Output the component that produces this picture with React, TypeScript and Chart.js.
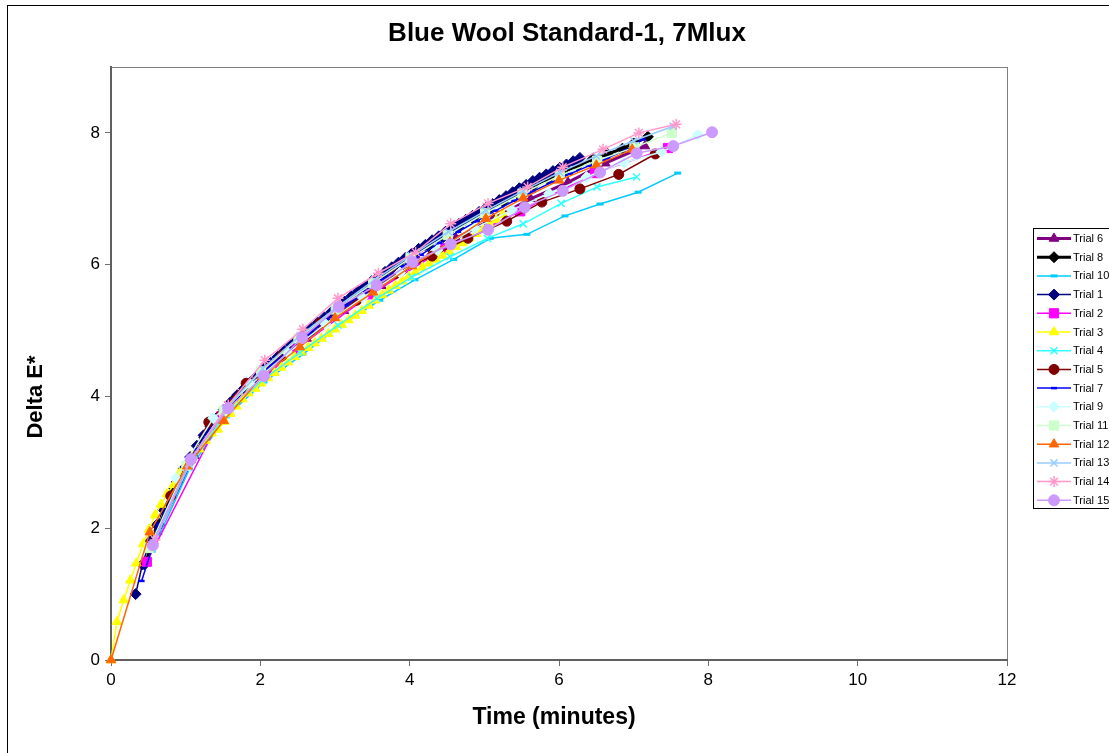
import React, { useEffect, useRef } from 'react';
import { Chart, registerables } from 'chart.js';
import { drawPoint } from 'chart.js/helpers';

Chart.register(...registerables);

const FONT = '"Liberation Sans", Arial, Helvetica, sans-serif';

const chartTitle = 'Blue Wool Standard-1, 7Mlux';
const xTitle = 'Time (minutes)';
const yTitle = 'Delta E*';
const xTickValues = [0, 2, 4, 6, 8, 10, 12];
const yTickValues = [0, 2, 4, 6, 8];

// ---- data (time in minutes, Delta E*) ----
const trial6T = [0.62, 1.12, 1.62, 2.12, 2.62, 3.12, 3.62, 4.12, 4.62, 5.12, 5.62, 6.12, 6.62, 7.15];
const trial6Y = [1.95, 3.1, 3.88, 4.4, 4.88, 5.3, 5.68, 6.05, 6.4, 6.7, 7.0, 7.25, 7.54, 7.8];

const trial8T = [0.45, 0.65, 0.85, 1.05, 1.25, 1.45, 1.65, 1.85, 2.05, 2.25, 2.45, 2.65, 2.85, 3.05, 3.25, 3.45, 3.65, 3.85, 4.05, 4.25, 4.45, 4.65, 4.85, 5.05, 5.25, 5.45, 5.65, 5.85, 6.05, 6.25, 6.45, 6.65, 6.85, 7.0, 7.19];
const trial8Y = [1.45, 2.05, 2.6, 3.0, 3.38, 3.7, 3.96, 4.18, 4.4, 4.6, 4.8, 4.98, 5.16, 5.33, 5.5, 5.67, 5.83, 5.99, 6.14, 6.28, 6.42, 6.56, 6.7, 6.83, 6.95, 7.07, 7.19, 7.3, 7.4, 7.5, 7.6, 7.68, 7.76, 7.84, 7.94];

const trial10T = [0.55, 1.05, 1.55, 2.05, 2.57, 3.07, 3.6, 4.07, 4.59, 5.08, 5.57, 6.08, 6.55, 7.06, 7.59];
const trial10Y = [1.65, 2.9, 3.7, 4.22, 4.64, 5.08, 5.46, 5.77, 6.08, 6.4, 6.46, 6.74, 6.92, 7.1, 7.39];

const trial1T = [0.33, 0.42, 0.52, 0.61, 0.7, 0.79, 0.88, 0.97, 1.06, 1.15, 1.24, 1.33, 1.42, 1.51, 1.6, 1.69, 1.78, 1.87, 1.96, 2.05, 2.14, 2.23, 2.32, 2.41, 2.5, 2.59, 2.68, 2.77, 2.86, 2.95, 3.04, 3.13, 3.22, 3.31, 3.4, 3.49, 3.58, 3.67, 3.76, 3.85, 3.94, 4.03, 4.12, 4.21, 4.3, 4.39, 4.48, 4.57, 4.66, 4.75, 4.84, 4.93, 5.02, 5.11, 5.2, 5.29, 5.38, 5.47, 5.56, 5.65, 5.74, 5.83, 5.92, 6.01, 6.1, 6.19, 6.28];
const trial1Y = [1.0, 1.45, 1.8, 2.05, 2.28, 2.5, 2.7, 2.9, 3.08, 3.25, 3.41, 3.55, 3.68, 3.8, 3.91, 4.02, 4.12, 4.22, 4.32, 4.42, 4.51, 4.6, 4.69, 4.78, 4.87, 4.95, 5.04, 5.12, 5.2, 5.28, 5.36, 5.44, 5.52, 5.6, 5.67, 5.75, 5.82, 5.89, 5.96, 6.03, 6.1, 6.17, 6.24, 6.3, 6.37, 6.43, 6.5, 6.56, 6.62, 6.68, 6.74, 6.8, 6.86, 6.92, 6.98, 7.04, 7.1, 7.16, 7.21, 7.27, 7.32, 7.37, 7.42, 7.47, 7.52, 7.57, 7.62];

const trial2T = [0.48, 1.48, 2.48, 3.48, 4.48, 5.48, 6.48, 7.46];
const trial2Y = [1.49, 3.7, 4.72, 5.55, 6.25, 6.81, 7.39, 7.77];

const trial3T = [0, 0.08, 0.17, 0.26, 0.34, 0.43, 0.51, 0.59, 0.67, 0.75, 0.84, 0.92, 1.01, 1.09, 1.18, 1.27, 1.35, 1.43, 1.52, 1.6, 1.68, 1.76, 1.84, 1.93, 2.01, 2.1, 2.19, 2.28, 2.37, 2.46, 2.55, 2.64, 2.73, 2.82, 2.91, 3.0, 3.09, 3.18, 3.27, 3.36, 3.45, 3.54, 3.63, 3.72, 3.81, 3.9, 3.99, 4.08, 4.17, 4.26, 4.35, 4.44, 4.53, 4.62, 4.71, 4.8, 4.89, 4.98, 5.07, 5.16, 5.25];
const trial3Y = [0, 0.58, 0.91, 1.21, 1.47, 1.76, 1.98, 2.2, 2.36, 2.52, 2.66, 2.84, 2.98, 3.1, 3.2, 3.33, 3.44, 3.5, 3.62, 3.74, 3.85, 3.96, 4.05, 4.12, 4.2, 4.28, 4.36, 4.44, 4.52, 4.6, 4.67, 4.74, 4.81, 4.88, 4.95, 5.02, 5.09, 5.16, 5.23, 5.3, 5.38, 5.46, 5.54, 5.61, 5.68, 5.75, 5.82, 5.89, 5.96, 6.02, 6.08, 6.14, 6.2, 6.27, 6.33, 6.4, 6.47, 6.54, 6.61, 6.68, 6.76];

const trial4T = [0.54, 1.03, 1.53, 2.03, 2.53, 3.04, 3.56, 4.03, 4.54, 5.04, 5.52, 6.03, 6.51, 7.04];
const trial4Y = [1.7, 2.92, 3.72, 4.25, 4.67, 5.08, 5.49, 5.81, 6.12, 6.4, 6.62, 6.93, 7.18, 7.33];

const trial5T = [0.8, 1.31, 1.81, 2.29, 2.8, 3.29, 3.8, 4.3, 4.78, 5.3, 5.77, 6.28, 6.8, 7.29];
const trial5Y = [2.49, 3.61, 4.2, 4.62, 5.11, 5.46, 5.86, 6.13, 6.4, 6.66, 6.95, 7.15, 7.37, 7.68];

const trial7T = [0.41, 0.65, 0.9, 1.15, 1.4, 1.65, 1.9, 2.15, 2.4, 2.65, 2.9, 3.15, 3.4, 3.65, 3.9, 4.15, 4.4, 4.65, 4.9, 5.15, 5.4, 5.65, 5.9, 6.15, 6.4, 6.65, 6.9, 7.12];
const trial7Y = [1.2, 2.05, 2.7, 3.2, 3.62, 3.96, 4.22, 4.48, 4.72, 4.95, 5.17, 5.38, 5.58, 5.78, 5.97, 6.15, 6.33, 6.5, 6.66, 6.82, 6.97, 7.11, 7.25, 7.38, 7.5, 7.62, 7.74, 7.9];

const trial9T = [0.87, 1.37, 1.87, 2.37, 2.87, 3.37, 3.87, 4.37, 4.87, 5.37, 5.87, 6.37, 6.87, 7.37, 7.86];
const trial9Y = [2.76, 3.67, 4.18, 4.66, 5.1, 5.5, 5.88, 6.22, 6.55, 6.83, 7.08, 7.33, 7.55, 7.71, 7.97];

const trial11T = [0.51, 1.01, 1.51, 2.01, 2.51, 3.01, 3.51, 4.01, 4.51, 5.01, 5.51, 6.01, 6.51, 7.01, 7.51];
const trial11Y = [1.7, 2.95, 3.78, 4.38, 4.88, 5.32, 5.72, 6.1, 6.45, 6.78, 7.08, 7.35, 7.58, 7.78, 8.0];

const trial12T = [0, 0.52, 1.02, 1.51, 2.02, 2.53, 3.0, 3.51, 4.03, 4.54, 5.02, 5.52, 6.0, 6.5, 6.98];
const trial12Y = [0, 1.94, 2.94, 3.63, 4.3, 4.75, 5.19, 5.58, 5.98, 6.34, 6.7, 7.01, 7.28, 7.51, 7.75];

const trial13T = [0.55, 1.04, 1.54, 2.03, 2.53, 3.03, 3.53, 4.02, 4.52, 5.02, 5.52, 6.01, 6.5, 7.0, 7.53];
const trial13Y = [1.75, 2.98, 3.82, 4.42, 4.92, 5.36, 5.77, 6.14, 6.5, 6.82, 7.12, 7.4, 7.65, 7.88, 8.1];

const trial14T = [0.59, 1.06, 1.57, 2.06, 2.57, 3.04, 3.58, 4.08, 4.55, 5.05, 5.58, 6.05, 6.59, 7.07, 7.57];
const trial14Y = [1.82, 3.03, 3.87, 4.55, 5.02, 5.49, 5.87, 6.19, 6.62, 6.93, 7.18, 7.48, 7.75, 8.0, 8.13];

const trial15T = [0.56, 1.07, 1.57, 2.05, 2.56, 3.05, 3.56, 4.04, 4.55, 5.05, 5.54, 6.05, 6.55, 7.04, 7.53, 8.05];
const trial15Y = [1.74, 3.05, 3.82, 4.31, 4.89, 5.36, 5.69, 6.04, 6.31, 6.53, 6.87, 7.12, 7.4, 7.69, 7.8, 8.01];

const seriesLabels = ['Trial 6', 'Trial 8', 'Trial 10', 'Trial 1', 'Trial 2', 'Trial 3', 'Trial 4', 'Trial 5', 'Trial 7', 'Trial 9', 'Trial 11', 'Trial 12', 'Trial 13', 'Trial 14', 'Trial 15'];
const seriesTimes = [trial6T, trial8T, trial10T, trial1T, trial2T, trial3T, trial4T, trial5T, trial7T, trial9T, trial11T, trial12T, trial13T, trial14T, trial15T];
const seriesValues = [trial6Y, trial8Y, trial10Y, trial1Y, trial2Y, trial3Y, trial4Y, trial5Y, trial7Y, trial9Y, trial11Y, trial12Y, trial13Y, trial14Y, trial15Y];

// ---- styles ----
type Style = { color: string; point: string; radius: number; lineWidth: number; pointBorder: number };
const seriesStyles: Style[] = [
  { color: '#800080', point: 'triangle', radius: 5.5, lineWidth: 3, pointBorder: 1 },
  { color: '#000000', point: 'rectRot', radius: 5.5, lineWidth: 3, pointBorder: 1 },
  { color: '#00CCFF', point: 'line', radius: 3.5, lineWidth: 1.5, pointBorder: 3 },
  { color: '#000080', point: 'rectRot', radius: 5.5, lineWidth: 1.5, pointBorder: 1 },
  { color: '#FF00FF', point: 'rect', radius: 6.5, lineWidth: 1.5, pointBorder: 1 },
  { color: '#FFFF00', point: 'triangle', radius: 5.5, lineWidth: 1.5, pointBorder: 1 },
  { color: '#33FFFF', point: 'crossRot', radius: 5, lineWidth: 1.5, pointBorder: 1.5 },
  { color: '#800000', point: 'circle', radius: 5, lineWidth: 1.5, pointBorder: 1 },
  { color: '#0000FF', point: 'line', radius: 3, lineWidth: 1.5, pointBorder: 2.5 },
  { color: '#CCFFFF', point: 'rectRot', radius: 5.5, lineWidth: 1.5, pointBorder: 1 },
  { color: '#CCFFCC', point: 'rect', radius: 6.5, lineWidth: 1.5, pointBorder: 1 },
  { color: '#FF6600', point: 'triangle', radius: 5.5, lineWidth: 1.5, pointBorder: 1 },
  { color: '#99CCFF', point: 'crossRot', radius: 5, lineWidth: 1.5, pointBorder: 1.5 },
  { color: '#FF99CC', point: 'star', radius: 5.5, lineWidth: 1.5, pointBorder: 1.5 },
  { color: '#CC99FF', point: 'circle', radius: 5.5, lineWidth: 1.5, pointBorder: 1 },
];

const decorPlugin = {
  id: 'decor',
  beforeDraw(chart: any) {
    const { ctx, width, height, chartArea } = chart;
    ctx.save();
    ctx.fillStyle = '#ffffff';
    ctx.fillRect(0, 0, width, height);
    ctx.strokeStyle = '#000000';
    ctx.lineWidth = 1;
    ctx.strokeRect(7.5, 5.5, width + 20, height + 20);
    ctx.strokeStyle = '#808080';
    ctx.strokeRect(chartArea.left + 0.5, chartArea.top + 0.5, chartArea.right - chartArea.left, chartArea.bottom - chartArea.top);
    ctx.restore();
  },
  afterDraw(chart: any) {
    const { ctx } = chart;
    ctx.save();
    ctx.fillStyle = '#000000';
    ctx.textAlign = 'center';
    ctx.textBaseline = 'middle';
    ctx.font = `bold 26px ${FONT}`;
    ctx.fillText(chartTitle, 567, 34);
    ctx.font = `bold 23px ${FONT}`;
    ctx.fillText(xTitle, 554, 718);
    ctx.font = `bold 22px ${FONT}`;
    ctx.save();
    ctx.translate(36, 397);
    ctx.rotate(-Math.PI / 2);
    ctx.fillText(yTitle, 0, 0);
    ctx.restore();

    // legend
    ctx.strokeStyle = '#000000';
    ctx.lineWidth = 1;
    ctx.strokeRect(1033.5, 228.5, 120, 280);
    ctx.font = `11px ${FONT}`;
    ctx.textAlign = 'left';
    seriesLabels.forEach((label, i) => {
      const st = seriesStyles[i];
      const y = 238.5 + i * 18.7;
      ctx.strokeStyle = st.color;
      ctx.lineWidth = st.lineWidth;
      ctx.beginPath();
      ctx.moveTo(1037, y);
      ctx.lineTo(1071, y);
      ctx.stroke();
      ctx.fillStyle = st.color;
      ctx.strokeStyle = st.color;
      ctx.lineWidth = st.pointBorder;
      drawPoint(ctx, { pointStyle: st.point as any, radius: st.radius, rotation: 0, borderWidth: st.pointBorder }, 1054, y);
      ctx.fillStyle = '#000000';
      ctx.fillText(label, 1073, y + 0.5);
    });
    ctx.restore();
  },
};

export default function App() {
  const ref = useRef<HTMLCanvasElement | null>(null);
  useEffect(() => {
    document.body.style.margin = '0';
    const canvas = ref.current;
    if (!canvas) return;
    const n = seriesLabels.length;
    const datasets = seriesLabels.map((label, i) => {
      const st = seriesStyles[i];
      return {
        label,
        data: seriesTimes[i].map((t, j) => ({ x: t, y: seriesValues[i][j] })),
        showLine: true,
        borderColor: st.color,
        backgroundColor: st.color,
        borderWidth: st.lineWidth,
        pointStyle: st.point,
        pointRadius: st.radius,
        pointHoverRadius: st.radius,
        pointBackgroundColor: st.color,
        pointBorderColor: st.color,
        pointBorderWidth: st.pointBorder,
        tension: 0,
        clip: false as any,
        order: n - 1 - i,
      };
    });
    const chart = new Chart(canvas, {
      type: 'scatter',
      data: { datasets: datasets as any },
      options: {
        responsive: false,
        animation: false,
        devicePixelRatio: 1,
        layout: { padding: { left: 0, top: 67, right: 102, bottom: 0 } },
        plugins: { legend: { display: false }, title: { display: false }, tooltip: { enabled: false } },
        events: [],
        scales: {
          x: {
            type: 'linear',
            min: 0,
            max: 12,
            afterFit: (s: any) => { s.height = 93; },
            afterBuildTicks: (s: any) => { s.ticks = xTickValues.map((v) => ({ value: v })); },
            ticks: { stepSize: 2, color: '#000000', font: { family: FONT, size: 17 }, padding: 4 },
            grid: { drawOnChartArea: false, drawTicks: true, tickLength: 6, color: '#707070', lineWidth: 1 },
            border: { display: true, color: '#606060', width: 2 },
          },
          y: {
            type: 'linear',
            min: 0,
            max: 9,
            afterFit: (s: any) => { s.width = 111; },
            afterBuildTicks: (s: any) => { s.ticks = yTickValues.map((v) => ({ value: v })); },
            ticks: { stepSize: 2, color: '#000000', font: { family: FONT, size: 17 }, padding: 5 },
            grid: { drawOnChartArea: false, drawTicks: true, tickLength: 6, color: '#707070', lineWidth: 1 },
            border: { display: true, color: '#606060', width: 2 },
          },
        },
      },
      plugins: [decorPlugin],
    });
    return () => chart.destroy();
  }, []);
  return (
    <div style={{ position: 'absolute', left: 0, top: 0 }}>
      <canvas ref={ref} width={1109} height={753} style={{ display: 'block', width: 1109, height: 753 }} />
    </div>
  );
}
